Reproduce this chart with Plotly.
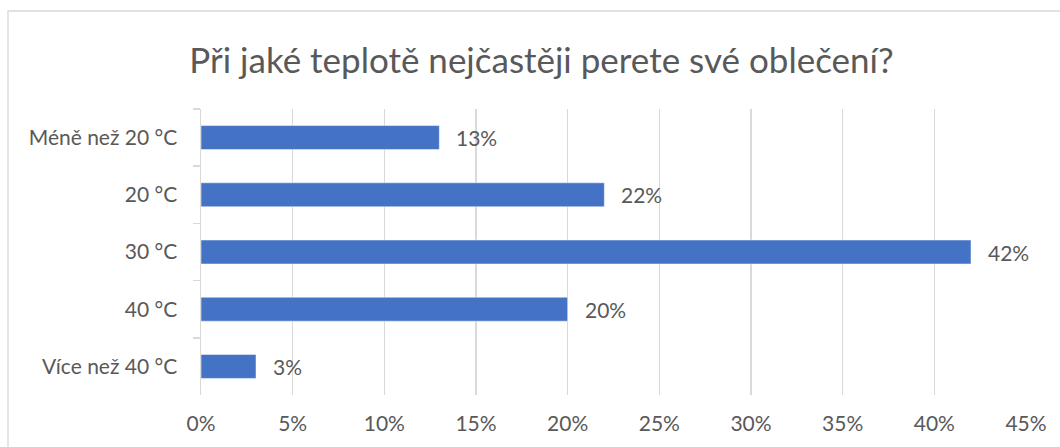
import plotly.graph_objects as go

categories = ["Méně než 20 °C", "20 °C", "30 °C", "40 °C", "Více než 40 °C"]
values = [0.13, 0.22, 0.42, 0.20, 0.03]
tick_vals = [0, 0.05, 0.10, 0.15, 0.20, 0.25, 0.30, 0.35, 0.40, 0.45]
tick_text = ["0%", "5%", "10%", "15%", "20%", "25%", "30%", "35%", "40%", "45%"]
title = "Při jaké teplotě nejčastěji perete své oblečení?"

FONT = "Lato, Carlito, Calibri, sans-serif"
TXT = "#595959"
GRID = "#d9d9d9"
BAR = "#4472C4"

fig = go.Figure()
fig.add_trace(go.Bar(
    y=categories, x=values, orientation="h",
    marker=dict(color=BAR, line=dict(color="#ffffff", width=0.5)),
    width=0.42, hoverinfo="skip",
))

for c, v in zip(categories, values):
    fig.add_annotation(x=v, y=c, xref="x", yref="y", text=f"{round(v*100)}%",
                       showarrow=False, xanchor="left", yanchor="middle",
                       xshift=15, font=dict(family=FONT, size=21, color=TXT))

L, R, T, B = 201, 34, 109, 52
W, H = 1060, 447
pw, ph = W - L - R, H - T - B
def px(x):
    return (x - L) / pw
def py(y):
    return (H - B - y) / ph

fig.add_shape(type="rect", xref="paper", yref="paper",
              x0=px(8), x1=px(1065), y0=py(11), y1=py(452),
              line=dict(color=GRID, width=1.3), fillcolor="rgba(0,0,0,0)", layer="below")

fig.update_layout(
    width=W, height=H,
    margin=dict(l=L, r=R, t=T, b=B, pad=0, autoexpand=False),
    paper_bgcolor="white", plot_bgcolor="white",
    showlegend=False,
    title=dict(text=title, x=(193 + 890) / 2 / W, xanchor="center",
               y=1 - 61 / H, yanchor="middle", yref="container",
               font=dict(family=FONT, size=35, color=TXT)),
    xaxis=dict(range=[0, 0.45], tickvals=tick_vals, ticktext=tick_text,
               showgrid=True, gridcolor=GRID, gridwidth=1.5, zeroline=False,
               showline=False, ticks="", ticklabelstandoff=14, automargin=False,
               tickfont=dict(family=FONT, size=21, color=TXT), fixedrange=True),
    yaxis=dict(autorange="reversed", type="category",
               showline=True, linecolor=GRID, linewidth=1.5,
               ticks="outside", ticklen=7, tickcolor=GRID, tickwidth=1.5,
               tickson="boundaries", showgrid=False, ticklabelstandoff=18,
               automargin=False,
               tickfont=dict(family=FONT, size=21, color=TXT), fixedrange=True),
    bargap=0.58,
)

fig.write_html("out.html", config={"displayModeBar": False, "staticPlot": True},
               post_script="document.body.style.margin='0';document.body.style.overflow='hidden';")
